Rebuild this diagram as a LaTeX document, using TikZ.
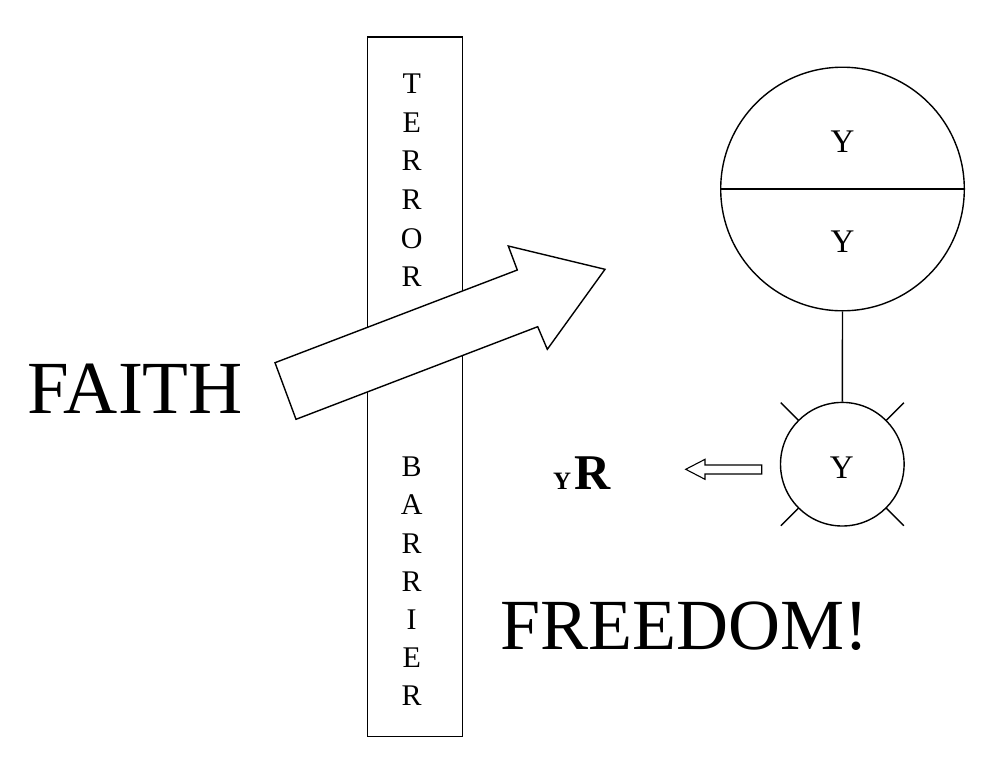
\documentclass[tikz,border=0pt]{standalone}
\usepackage{fontspec}
\setmainfont{Liberation Serif}
\usetikzlibrary{calc}
\begin{document}
\begin{tikzpicture}[x=1pt,y=-1pt,
  outline/.style={draw=black,line width=1.4pt},
  bigword/.style={font=\fontsize{72}{80}\selectfont,anchor=base west,inner sep=0pt},
  barletter/.style={font=\fontsize{30}{36}\selectfont,anchor=base,inner sep=0pt},
  circletext/.style={font=\fontsize{33}{36}\selectfont,inner sep=0pt},
  tick/.style={draw=black,line width=1.4pt}]
\useasboundingbox (0,0) rectangle (1006,772);
% barrier
\draw[outline] (367.5,37) rectangle (462.7,736.5);
\foreach \l [count=\i] in {T,E,R,R,O,R}
  \node[barletter] (t\i) at (411.7,{93.3+38.7*(\i-1)}) {\l};
\foreach \l [count=\i] in {B,A,R,R,I,E,R}
  \node[barletter] (b\i) at (411.7,{476.7+38.2*(\i-1)}) {\l};
% big arrow
\draw[outline,fill=white,line join=miter]
  (275,362.7) -- (296,419.3) -- (537.7,326.7) -- (547.3,349.3) -- (605,269.3)
  -- (508.3,246) -- (517.3,270) -- cycle;
% words
\node[bigword,font=\fontsize{75}{80}\selectfont] (faith) at (27.5,413.3) {FAITH};
\node[bigword] (freedom) at (500,649) {FREEDOM!};
% big circle
\node[outline,circle,minimum size=243.6pt,inner sep=0pt] (big) at (842.5,189) {};
\draw[outline] (big.west) -- (big.east);
\node[circletext] (ytop) at (842.5,141.2) {Y};
\node[circletext] (ybot) at (842.5,241.3) {Y};
% small circle
\node[outline,circle,minimum size=123.6pt,inner sep=0pt] (small) at (842.3,464.2) {};
\node[circletext] (ysmall) at (841.7,467.2) {Y};
\draw[outline] (big.south) -- (small.north);
\foreach \a in {45,135,225,315}
  \draw[tick] ($(small.center)+(\a:62)$) -- ($(small.center)+(\a:87)$);
% hollow arrow
\draw[draw=black,line width=1.1pt,fill=white,line join=miter]
  (761.7,465) -- (705,465) -- (705,459.3) -- (685.7,469.3) -- (705,479.3) -- (705,474) -- (761.7,474) -- cycle;
% YR
\node[anchor=base west,inner sep=0pt] (yr) at (553,489.3)
  {\bfseries\fontsize{25}{25}\selectfont Y\kern3pt\fontsize{50}{50}\selectfont R};
\end{tikzpicture}
\end{document}
